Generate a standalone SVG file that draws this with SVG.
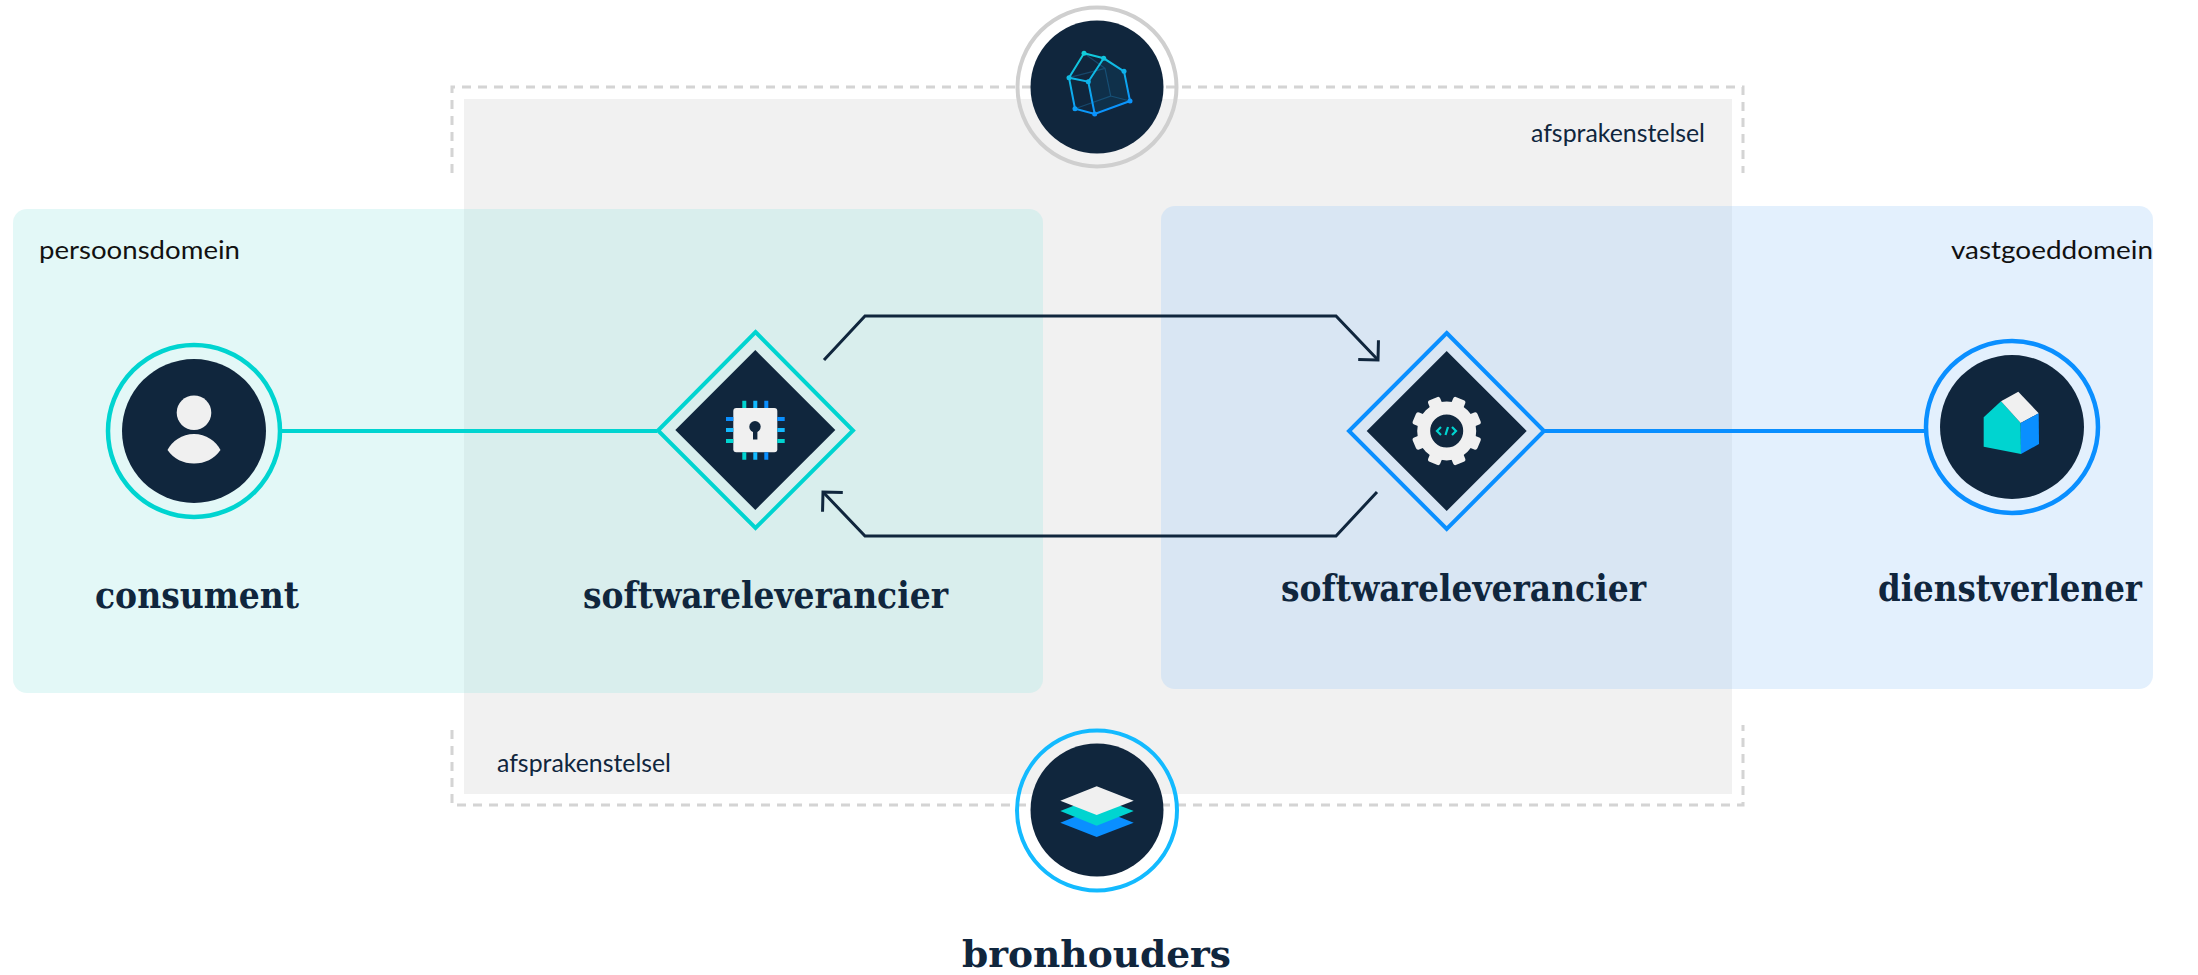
<svg xmlns="http://www.w3.org/2000/svg" width="2198" height="975" viewBox="0 0 2198 975">
<style>
.navy{fill:#10263D}
.title{font-family:"DejaVu Serif","Liberation Serif",serif;font-weight:700;font-size:37px;fill:#10263D}
.lab{font-family:Lato,"Open Sans","Liberation Sans",sans-serif;font-size:25px;fill:#10263D}
.dash{fill:none;stroke:#D4D4D4;stroke-width:3;stroke-dasharray:9 7}
.flow{fill:none;stroke:#10263D;stroke-width:3}
.wire{fill:none;stroke:url(#wg);stroke-width:2}
.pin{stroke-width:4;fill:none}
.t{stroke:#00D4D0}.l{stroke:#13BAFF}.b{stroke:#0A8FFF}
.lt{fill:#F0F0F0}
</style>
<defs>
<marker id="open" markerUnits="userSpaceOnUse" markerWidth="30" markerHeight="40" refX="20" refY="20" orient="auto" viewBox="0 0 30 40" overflow="visible">
<path d="M6,6 L20,20 L6,34" fill="none" stroke="#10263D" stroke-width="3"/>
</marker>
<linearGradient id="wg" gradientUnits="userSpaceOnUse" x1="1085" y1="50" x2="1105" y2="115">
<stop offset="0" stop-color="#12D0D8"/><stop offset="1" stop-color="#0A8FFF"/>
</linearGradient>
</defs>
<g id="afsprakenstelsel">
<rect x="464" y="99" width="1268" height="695" fill="#F1F1F1"/>
<path class="dash" d="M452,173 V87 H1743 V173"/>
<path class="dash" d="M452,730 V805 H1743 V725"/>
<text class="lab" x="1531" y="142" textLength="174" lengthAdjust="spacingAndGlyphs">afsprakenstelsel</text>
<text class="lab" x="497" y="772" textLength="174" lengthAdjust="spacingAndGlyphs">afsprakenstelsel</text>
</g>
<g id="persoonsdomein">
<rect x="13" y="209" width="1030" height="484" rx="14" fill="#A2E8E5" fill-opacity=".3"/>
<text class="lab" x="39" y="259" textLength="201" lengthAdjust="spacingAndGlyphs" style="fill:#111">persoonsdomein</text>
</g>
<g id="vastgoeddomein">
<rect x="1161" y="206" width="992" height="483" rx="14" fill="#A2CDF8" fill-opacity=".3"/>
<text class="lab" x="1951" y="259" textLength="202" lengthAdjust="spacingAndGlyphs" style="fill:#111">vastgoeddomein</text>
</g>
<g id="connectors">
<path d="M282,431 H657" fill="none" stroke="#00D4D0" stroke-width="4"/>
<path d="M1542,431 H1926" fill="none" stroke="#0A8FFF" stroke-width="4"/>
<path class="flow" d="M824,360 L865,316 H1336 L1378,360" marker-end="url(#open)"/>
<path class="flow" d="M1377,492 L1336,536 H865 L823,492" marker-end="url(#open)"/>
</g>
<g id="consument">
<circle cx="194" cy="431" r="86" fill="none" stroke="#00D4D0" stroke-width="4.5"/>
<circle cx="194" cy="431" r="72" class="navy"/>
<circle cx="194" cy="412.7" r="17.3" class="lt"/>
<path class="lt" d="M167.5,450 C172,441 182,434 194,434 C206,434 216,441 220.5,450 C214,459 205,463.5 194,463.5 C183,463.5 174,459 167.5,450Z"/>
<text class="title" x="95" y="608" textLength="204" lengthAdjust="spacingAndGlyphs">consument</text>
</g>
<g id="softwareleverancier-links">
<path d="M755.5,332 L853,430.5 L755.5,528 L658,430.5Z" fill="none" stroke="#00D4D0" stroke-width="4"/>
<path d="M755.3,350 L835.3,430 L755.3,510 L675.3,430Z" class="navy"/>
<rect x="733.3" y="408" width="44" height="44.3" rx="3" class="lt"/>
<circle cx="755" cy="426.7" r="5.7" class="navy"/>
<rect x="753" y="428" width="4.4" height="11.5" class="navy"/>
<path class="pin t" d="M744.3,400.7V408M744.3,452.3V459.7M726,441H733.3M777.3,441H784.7"/>
<path class="pin l" d="M755.3,400.7V408M755.3,452.3V459.7M726,430H733.3M777.3,430H784.7"/>
<path class="pin b" d="M766.3,400.7V408M766.3,452.3V459.7M726,419H733.3M777.3,419H784.7"/>
<text class="title" x="583" y="608" textLength="365" lengthAdjust="spacingAndGlyphs">softwareleverancier</text>
</g>
<g id="softwareleverancier-rechts">
<path d="M1446.7,333 L1544,431 L1446.7,529 L1349,431Z" fill="none" stroke="#0A8FFF" stroke-width="4"/>
<path d="M1446.7,351 L1526.7,431 L1446.7,511 L1366.7,431Z" class="navy"/>
<circle cx="1446.7" cy="431" r="23" fill="none" stroke="#F0F0F0" stroke-width="13"/>
<g transform="translate(1446.7 431)">
<rect class="lt" x="-6.5" y="-35" width="13" height="9" rx="2.5" transform="rotate(22.5)"/>
<rect class="lt" x="-6.5" y="-35" width="13" height="9" rx="2.5" transform="rotate(67.5)"/>
<rect class="lt" x="-6.5" y="-35" width="13" height="9" rx="2.5" transform="rotate(112.5)"/>
<rect class="lt" x="-6.5" y="-35" width="13" height="9" rx="2.5" transform="rotate(157.5)"/>
<rect class="lt" x="-6.5" y="-35" width="13" height="9" rx="2.5" transform="rotate(202.5)"/>
<rect class="lt" x="-6.5" y="-35" width="13" height="9" rx="2.5" transform="rotate(247.5)"/>
<rect class="lt" x="-6.5" y="-35" width="13" height="9" rx="2.5" transform="rotate(292.5)"/>
<rect class="lt" x="-6.5" y="-35" width="13" height="9" rx="2.5" transform="rotate(337.5)"/>
</g>
<path d="M1441,427 L1437,431 L1441,435 M1452,427 L1456,431 L1452,435 M1448,427 L1445.5,435" fill="none" stroke="#00D4D0" stroke-width="2.2"/>
<text class="title" x="1281" y="601" textLength="365" lengthAdjust="spacingAndGlyphs">softwareleverancier</text>
</g>
<g id="dienstverlener">
<circle cx="2012" cy="427" r="86" fill="none" stroke="#0A8FFF" stroke-width="4.5"/>
<circle cx="2012" cy="427" r="72" class="navy"/>
<path d="M1983.7,417.3 L2001,401.3 L2020.7,423 L2021,454 L1983.7,446.7Z" fill="#00D4D0"/>
<path class="lt" d="M2001,401.3 L2018.3,391.7 L2038.7,413.3 L2020.7,423Z"/>
<path d="M2020.7,423 L2038.7,413.3 L2039,444 L2021,454Z" fill="#0A8FFF"/>
<text class="title" x="1878" y="601" textLength="264" lengthAdjust="spacingAndGlyphs">dienstverlener</text>
</g>
<g id="kadaster">
<circle cx="1097" cy="87" r="79.5" fill="none" stroke="#CFCFCF" stroke-width="4"/>
<circle cx="1097" cy="87" r="66.5" class="navy"/>
<path d="M1084,53.3 L1105,68.3 L1110.7,96 L1075,108.7 M1105,68.3 L1069,77.7 M1110.7,96 L1130,101" fill="none" stroke="#17486C" stroke-width="1.2"/>
<path d="M1088.3,81.7 L1103.7,58.3 L1124,71.3 L1130,101 L1094.7,114Z" fill="#13BAFF" fill-opacity=".07"/>
<path class="wire" d="M1084,53.3 L1103.7,58.3 L1124,71.3 L1130,101 L1094.7,114 L1075,108.7 L1069,77.7 Z M1069,77.7 L1088.3,81.7 L1103.7,58.3 M1088.3,81.7 L1094.7,114"/>
<g fill="url(#wg)">
<circle cx="1084" cy="53.3" r="2.5"/><circle cx="1103.7" cy="58.3" r="2.5"/><circle cx="1124" cy="71.3" r="2.5"/><circle cx="1130" cy="101" r="2.5"/><circle cx="1094.7" cy="114" r="2.5"/><circle cx="1075" cy="108.7" r="2.5"/><circle cx="1069" cy="77.7" r="2.5"/><circle cx="1088.3" cy="81.7" r="2.5"/>
</g>
</g>
<g id="bronhouders">
<circle cx="1097" cy="810.5" r="80" fill="none" stroke="#13BAFF" stroke-width="4"/>
<circle cx="1097" cy="810" r="66.5" class="navy"/>
<path d="M1060.3,822.7 L1096.7,808 L1133.7,822.7 L1096.7,837Z" fill="#0A8FFF"/>
<path d="M1060.3,811 L1096.7,796.7 L1133.7,811 L1096.7,825.7Z" fill="#00D4D0"/>
<path class="lt" d="M1060.3,800.7 L1096.7,786.3 L1133.7,800.7 L1096.7,815Z"/>
<text class="title" x="962" y="967" textLength="269" lengthAdjust="spacingAndGlyphs">bronhouders</text>
</g>
</svg>
